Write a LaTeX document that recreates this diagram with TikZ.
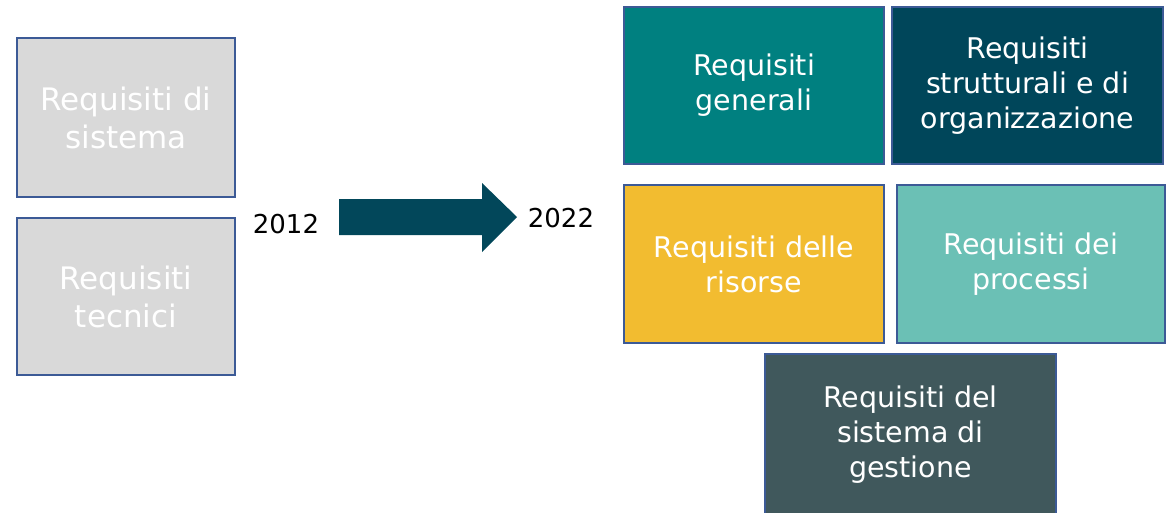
\documentclass[tikz,border=0pt]{standalone}
\usepackage{fontspec}
\setmainfont{DejaVu Sans}
\usetikzlibrary{positioning}

\definecolor{oldgray}{HTML}{D9D9D9}
\definecolor{edgeblue}{HTML}{3C5A96}
\definecolor{arrowcol}{HTML}{02475A}
\definecolor{tealA}{HTML}{008080}
\definecolor{tealB}{HTML}{00465A}
\definecolor{yellowC}{HTML}{F2BC30}
\definecolor{tealD}{HTML}{6BC0B5}
\definecolor{slateE}{HTML}{40585C}

\tikzset{
  reqbox/.style={draw=edgeblue, line width=1.5pt, text=white, align=center,
    inner sep=0pt, font=\fontsize{28.5}{35}\selectfont},
  oldbox/.style={reqbox, fill=oldgray, font=\fontsize{31}{38}\selectfont},
  yearlbl/.style={font=\fontsize{26}{30}\selectfont, text=black, inner sep=0pt}
}

\begin{document}
\begin{tikzpicture}[x=1pt, y=-1pt]
  \useasboundingbox (0,0) rectangle (1170,512);

  % 2012: the two old groups
  \node[oldbox, minimum width=218pt, minimum height=159pt] (old1) at (126,117.5) {Requisiti di\\sistema};
  \node[oldbox, minimum width=218pt, minimum height=157pt] (old2) at (126,296.5) {Requisiti\\tecnici};

  \node[yearlbl] (y2012) at (286,224) {2012};
  \node[yearlbl] (y2022) at (561,218) {2022};

  % big arrow between the years
  \coordinate (ashaft) at (339,217);
  \coordinate (atip) at (517,217);
  \fill[arrowcol] (ashaft) ++(0,-18) -- ++(143,0) -- ++(0,-16) -- (atip)
    -- ++(-35,35) -- ++(0,-17) -- ++(-143,0) -- cycle;

  % 2022: the five new groups
  \node[reqbox, fill=tealA, minimum width=260pt, minimum height=157pt] (gen) at (754,85.5) {Requisiti\\generali};
  \node[reqbox, fill=tealB, minimum width=271pt, minimum height=157pt] (strut) at (1027.5,85.5) {Requisiti\\strutturali e di\\organizzazione};
  \node[reqbox, fill=yellowC, minimum width=260pt, minimum height=158pt] (ris) at (754,264) {Requisiti delle\\risorse};
  \node[reqbox, fill=tealD, minimum width=268pt, minimum height=158pt] (proc) at (1031,264) {Requisiti dei\\processi};
  \node[reqbox, fill=slateE, minimum width=291pt, minimum height=162pt] (gest) at (910.5,435) {Requisiti del\\sistema di\\gestione};
\end{tikzpicture}
\end{document}
